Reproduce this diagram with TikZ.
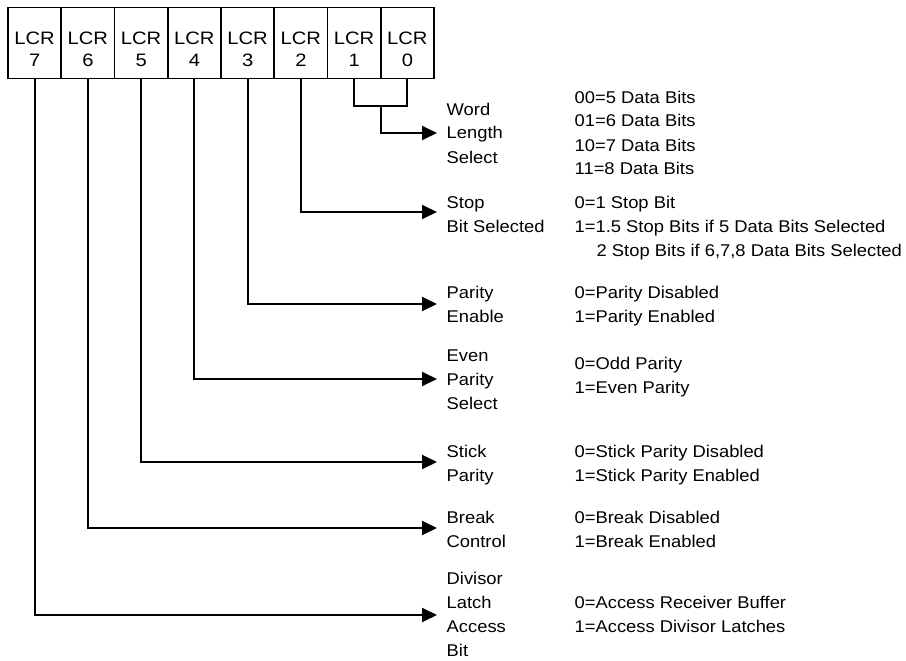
\documentclass[tikz,border=0pt]{standalone}
\usepackage{fontspec}
\setmainfont{Liberation Sans}
\newfontfamily\lblfont[FakeStretch=1.08]{Liberation Sans}
\newfontfamily\regfont[FakeStretch=1.12]{Liberation Sans}
\usetikzlibrary{arrows.meta,calc}
\begin{document}
\begin{tikzpicture}[x=1pt,y=-1pt,
  regbox/.style={draw,line width=1.9pt,minimum width=53.25pt,minimum height=71pt,inner sep=0pt},
  regtxt/.style={anchor=base,inner sep=0pt,font=\regfont\fontsize{18}{20}\selectfont},
  txt/.style={anchor=base west,inner sep=0pt,font=\lblfont\fontsize{17}{20}\selectfont},
  wire/.style={line width=1.9pt},
  arr/.style={line width=1.9pt,-{Triangle[length=15pt,width=14pt]}}]
\useasboundingbox (0,0) rectangle (906,661);
% register boxes
\foreach \i/\n in {0/7,1/6,2/5,3/4,4/3,5/2,6/1,7/0}{
  \node[regbox] (b\n) at ({8+53.25*\i+26.625},43) {};
  \node[regtxt] (r\n) at ({8+53.25*\i+26.625},45) {LCR};
  \node[regtxt] (d\n) at ({8+53.25*\i+26.625},66.5) {\n};
}
% arrow tips
\coordinate (t0) at (437,133);
\coordinate (t2) at (437,212);
\coordinate (t3) at (437,304);
\coordinate (t4) at (437,379);
\coordinate (t5) at (437,462);
\coordinate (t6) at (437,528);
\coordinate (t7) at (437,615);
% connectors
\draw[wire] (b1.south) -- ++(0,27) coordinate (j1) -| (b0.south);
\coordinate (jm) at ($(j1)!0.5!(b0.south|-j1)$);
\draw[arr] (jm) |- (t0);
\draw[arr] (b2.south) |- (t2);
\draw[arr] (b3.south) |- (t3);
\draw[arr] (b4.south) |- (t4);
\draw[arr] (b5.south) |- (t5);
\draw[arr] (b6.south) |- (t6);
\draw[arr] (b7.south) |- (t7);
% left labels
\node[txt] (wl1) at (446.5,115) {Word};
\node[txt] (wl2) at (446.5,139) {Length};
\node[txt] (wl3) at (446.5,163) {Select};
\node[txt] (sl1) at (446.5,208) {Stop};
\node[txt] (sl2) at (446.5,232) {Bit Selected};
\node[txt] (pl1) at (446.5,298) {Parity};
\node[txt] (pl2) at (446.5,322) {Enable};
\node[txt] (el1) at (446.5,361) {Even};
\node[txt] (el2) at (446.5,385) {Parity};
\node[txt] (el3) at (446.5,409) {Select};
\node[txt] (kl1) at (446.5,457) {Stick};
\node[txt] (kl2) at (446.5,481) {Parity};
\node[txt] (bl1) at (446.5,523) {Break};
\node[txt] (bl2) at (446.5,547) {Control};
\node[txt] (dl1) at (446.5,584) {Divisor};
\node[txt] (dl2) at (446.5,608) {Latch};
\node[txt] (dl3) at (446.5,632) {Access};
\node[txt] (dl4) at (446.5,656) {Bit};
% right descriptions
\node[txt] (wr1) at (574.5,103) {00=5 Data Bits};
\node[txt] (wr2) at (574.5,127) {01=6 Data Bits};
\node[txt] (wr3) at (574.5,151) {10=7 Data Bits};
\node[txt] (wr4) at (574.5,175) {11=8 Data Bits};
\node[txt] (sr1) at (574.5,208) {0=1 Stop Bit};
\node[txt] (sr2) at (574.5,232) {1=1.5 Stop Bits if 5 Data Bits Selected};
\node[txt] (sr3) at (596.5,256) {2 Stop Bits if 6,7,8 Data Bits Selected};
\node[txt] (pr1) at (574.5,298) {0=Parity Disabled};
\node[txt] (pr2) at (574.5,322) {1=Parity Enabled};
\node[txt] (er1) at (574.5,369) {0=Odd Parity};
\node[txt] (er2) at (574.5,393) {1=Even Parity};
\node[txt] (kr1) at (574.5,457) {0=Stick Parity Disabled};
\node[txt] (kr2) at (574.5,481) {1=Stick Parity Enabled};
\node[txt] (br1) at (574.5,523) {0=Break Disabled};
\node[txt] (br2) at (574.5,547) {1=Break Enabled};
\node[txt] (dr1) at (574.5,608) {0=Access Receiver Buffer};
\node[txt] (dr2) at (574.5,632) {1=Access Divisor Latches};
\end{tikzpicture}
\end{document}
